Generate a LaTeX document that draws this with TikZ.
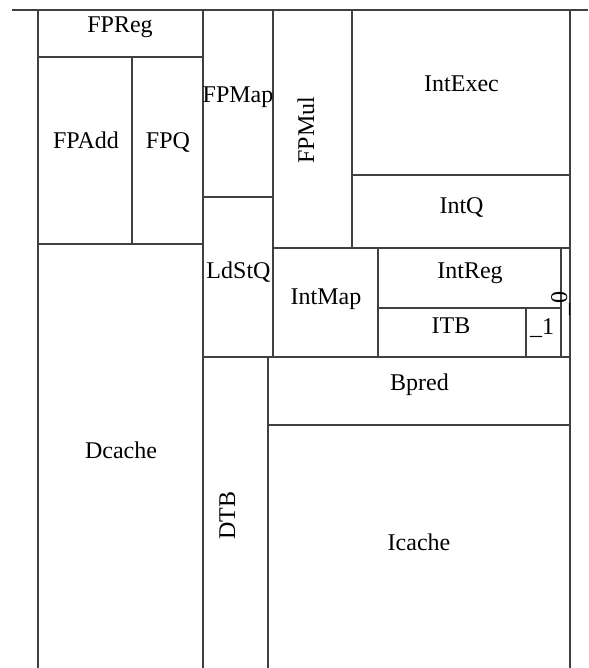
\documentclass[tikz,border=0pt]{standalone}
\usepackage{fontspec}
\setmainfont{Liberation Serif}
\begin{document}
\begin{tikzpicture}[x=1pt,y=-1pt,
  wall/.style={draw=black!75,line width=1.4pt},
  lbl/.style={anchor=base,inner sep=0pt,font=\fontsize{24}{28}\selectfont},
  vlbl/.style={lbl,rotate=90}]
\useasboundingbox (0,0) rectangle (588,668);
\fill[white] (0,0) rectangle (588,668);
% outer frame
\draw[wall] (12,10) -- (588,10);
\draw[wall] (38,10) -- (38,668);
\draw[wall] (570,10) -- (570,668);
\draw[wall] (203,10) -- (203,668);
% floating point block
\draw[wall] (38,57) -- (203,57);
\draw[wall] (132,57) -- (132,244);
\draw[wall] (38,244) -- (203,244);
\draw[wall] (203,197) -- (273,197);
\draw[wall] (273,10) -- (273,357);
\draw[wall] (352,10) -- (352,248);
\draw[wall] (352,175) -- (570,175);
\draw[wall] (273,248) -- (570,248);
% integer map / reg
\draw[wall] (378,248) -- (378,357);
\draw[wall] (561,248) -- (561,357);
\draw[wall] (378,308) -- (561,308);
\draw[wall] (526,308) -- (526,357);
\draw[wall] (203,357) -- (570,357);
% front end
\draw[wall] (268,357) -- (268,668);
\draw[wall] (268,425) -- (570,425);
% labels
\node[lbl] (fpreg) at (120,33) {FPReg};
\node[lbl] (fpadd) at (86,149) {FPAdd};
\node[lbl] (fpq) at (168,149) {FPQ};
\node[lbl] (fpmap) at (238,103) {FPMap};
\node[vlbl] (fpmul) at (314,130) {FPMul};
\node[lbl] (intexec) at (461.5,92) {IntExec};
\node[lbl] (intq) at (461.5,214) {IntQ};
\node[lbl] (ldstq) at (238.5,278) {LdStQ};
\node[lbl] (intmap) at (326,304) {IntMap};
\node[lbl] (intreg) at (470,278) {IntReg};
\node[lbl] (itb) at (451,333) {ITB};
\node[lbl] (itb1) at (542,334) {\_1};
\node[vlbl] (itb0) at (567,303.5) {\_0};
\node[lbl] (bpred) at (419.5,390) {Bpred};
\node[lbl] (dcache) at (121,458) {Dcache};
\node[vlbl] (dtb) at (235,515.5) {DTB};
\node[lbl] (icache) at (419,550) {Icache};
\end{tikzpicture}
\end{document}
